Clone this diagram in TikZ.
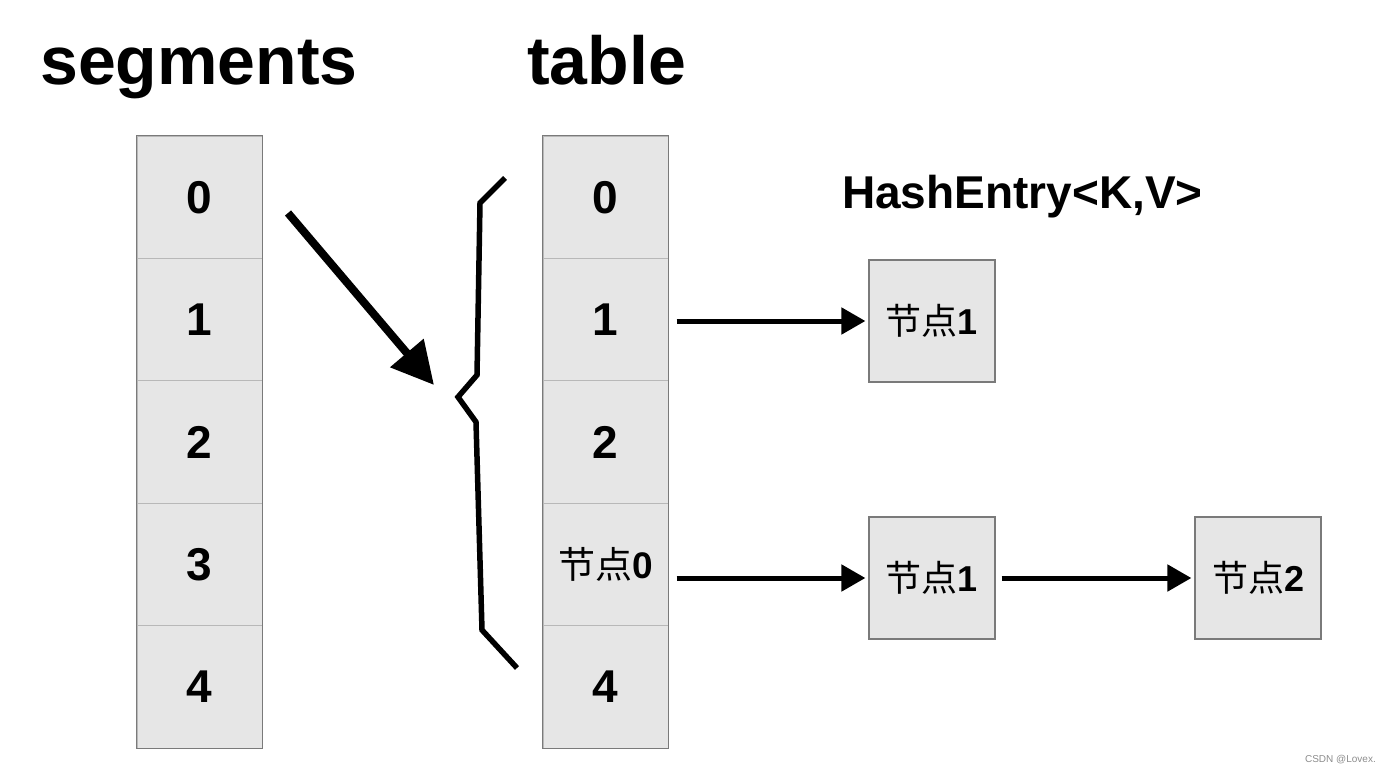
\documentclass[tikz,border=0pt]{standalone}
\usepackage{fontspec}
\setmainfont{Liberation Sans}
\newfontfamily\cjk{Noto Sans CJK SC}
\usetikzlibrary{arrows.meta}

\definecolor{cellfill}{HTML}{E6E6E6}
\definecolor{cellline}{HTML}{B8B8B8}
\definecolor{boxline}{HTML}{7A7A7A}
\newcommand{\jiedian}{{\cjk\mdseries 节点}}

\begin{document}
\begin{tikzpicture}[x=1pt,y=-1pt,
    cell/.style={draw=cellline,fill=cellfill,line width=1pt,inner sep=0pt,
      minimum width=125pt,minimum height=122.4pt,
      font=\fontsize{46}{50}\selectfont\bfseries},
    entry/.style={draw=boxline,fill=cellfill,line width=1.2pt,inner sep=0pt,
      minimum width=126pt,minimum height=122pt,
      font=\fontsize{36}{40}\selectfont\bfseries},
    title/.style={inner sep=0pt,font=\fontsize{68}{80}\selectfont\bfseries},
    link/.style={line width=5pt,-{Triangle[length=24pt,width=26pt]}}]
  \useasboundingbox (0,0) rectangle (1387,771);

  % titles
  \node[title,anchor=base west] (segtitle) at (40,84) {segments};
  \node[title,anchor=base west] (tabtitle) at (527,84) {table};
  \node[anchor=base west,inner sep=0pt,font=\fontsize{46}{50}\selectfont\bfseries]
    (hashtitle) at (842,208) {HashEntry<K,V>};

  % segments column
  \foreach \i in {0,...,4}
    \node[cell] (seg\i) at (199.5,197.2+122.4*\i) {\i};
  \draw[boxline,line width=1.2pt] (seg0.north west) rectangle (seg4.south east);

  % table column
  \foreach \i/\t in {0/0,1/1,2/2,3/{\fontsize{37}{40}\selectfont\jiedian0},4/4}
    \node[cell] (tab\i) at (605.5,197.2+122.4*\i) {\t};
  \draw[boxline,line width=1.2pt] (tab0.north west) rectangle (tab4.south east);

  % hash entries
  \node[entry] (e1) at (932,321) {\jiedian1};
  \node[entry] (e2) at (932,578) {\jiedian1};
  \node[entry] (e3) at (1258,578) {\jiedian2};

  % segment -> table
  \coordinate (from) at (288,213);
  \coordinate (to) at (434,385);
  \draw[line width=8pt,-{Triangle[length=42pt,width=42pt]}] (from) -- (to);

  % brace
  \draw[line width=5.5pt,line join=miter]
    (505,178) -- (480,203) -- (477,375) -- (458,397) -- (476,422)
    -- (482,630) -- (517,668);

  % links
  \draw[link,shorten <=8pt,shorten >=3pt] (tab1.east |- e1.west) -- (e1.west);
  \draw[link,shorten <=8pt,shorten >=3pt] (tab3.east |- e2.west) -- (e2.west);
  \draw[link,shorten <=6pt,shorten >=3pt] (e2.east) -- (e3.west);

  \node[anchor=base east,inner sep=0pt,text=black!45,font=\fontsize{10}{12}\selectfont]
    (mark) at (1376,762) {CSDN @Lovex.};
\end{tikzpicture}
\end{document}
